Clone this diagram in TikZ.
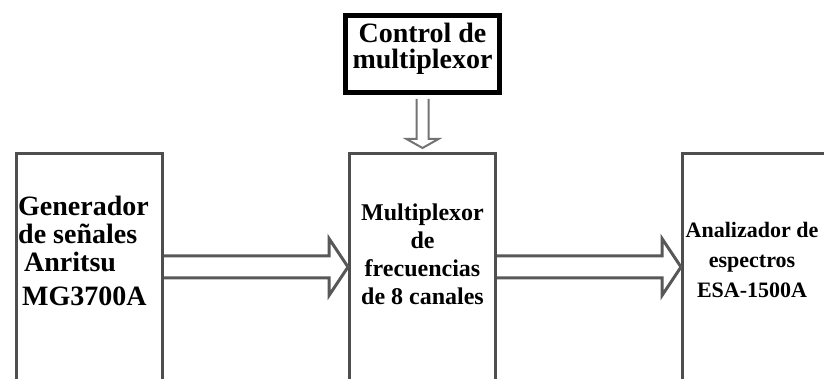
\documentclass[tikz,border=0pt]{standalone}
\usepackage{fontspec}
\setmainfont{Liberation Serif}
\usetikzlibrary{calc,positioning}
\definecolor{boxgray}{RGB}{78,78,78}
\definecolor{arrgray}{RGB}{88,88,88}
\definecolor{ctlgray}{RGB}{115,115,115}
\tikzset{
  blkbox/.style={draw=boxgray, line width=3pt, fill=white, inner sep=0pt,
                 minimum width=146pt, minimum height=227pt},
  ctlbox/.style={draw=black, line width=5pt, fill=white, inner sep=0pt,
                 minimum width=154pt, minimum height=77pt, align=center,
                 text depth=16pt, font=\bfseries\fontsize{28}{26.5}\selectfont},
  lbl/.style={inner sep=0pt, font=\bfseries\fontsize{#1}{28}\selectfont},
  fatarr/.style={arrgray, line width=3pt, line join=miter},
  ctlarr/.style={ctlgray, line width=2pt, line join=miter},
}
% hollow block arrow from the east side of #1 to the west side of #2
\newcommand{\fatarrow}[2]{%
  \draw[fatarr] ($(#1.east)+(0,11)$) -- ($(#2.west)+(-19,11)$) -- ++(0,17.5)
    -- (#2.west) -- ($(#2.west)+(-19,-28.5)$) -- ++(0,17.5) -- ($(#1.east)+(0,-11)$);}

\begin{document}
\begin{tikzpicture}[x=1pt, y=1pt]
    \useasboundingbox (0,0) rectangle (824,379);
    \fill[white] (0,0) rectangle (824,379);
    % blocks
    \node[blkbox] (gen) at (89.5,112) {};
    \node[blkbox] (mux) at (422.5,112) {};
    \node[blkbox] (esa) at (755.5,112) {};
    \node[ctlbox] (ctrl) at (422.5,325) {Control de\\multiplexor};
    % labels
    \node[lbl=28, align=left, anchor=west] (genlbl) at (18,128.5)
         {Generador\\de señales\\\hspace*{6pt}Anritsu\\[6pt]\hspace*{4pt}MG3700A};
    \node[lbl=24, align=center] (muxlbl) at ([yshift=12.5pt]mux.center)
         {Multiplexor\\de\\frecuencias\\de 8 canales};
    \node[lbl=22, align=center, font=\bfseries\fontsize{22}{30}\selectfont] (esalbl)
         at ([xshift=-3.5pt, yshift=7pt]esa.center) {Analizador de\\espectros\\ESA-1500A};
    % connectors
    \fatarrow{gen}{mux}
    \fatarrow{mux}{esa}
    \draw[ctlarr] ($(ctrl.south)+(-6,-4)$) -- ($(mux.north)+(-6,13)$) -- ++(-10,0)
      -- ($(mux.north)+(0,4)$) -- ($(mux.north)+(16,13)$) -- ++(-10,0)
      -- ($(ctrl.south)+(6,-4)$);
  \end{tikzpicture}
\end{document}
